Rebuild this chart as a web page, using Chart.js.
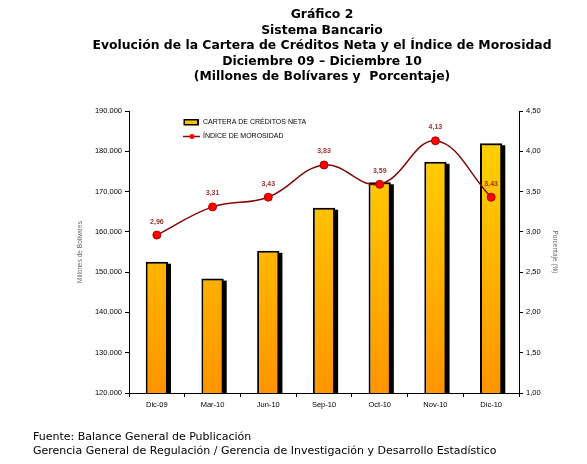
<!DOCTYPE html>
<html><head><meta charset="utf-8">
<script src="https://cdn.jsdelivr.net/npm/chart.js@4"></script>
<style>
html,body{margin:0;padding:0;background:#fff;}
#wrap{position:relative;width:587px;height:464px;overflow:hidden;}
#c{position:absolute;left:0;top:0;}
#title{position:absolute;left:72px;width:500px;top:6px;text-align:center;font:bold 12.4px "DejaVu Sans",Verdana,sans-serif;line-height:15.5px;color:#000;}
#foot{position:absolute;left:33px;top:430px;font:11px "DejaVu Sans",Verdana,sans-serif;line-height:14px;color:#000;white-space:nowrap;}
</style></head>
<body>
<div id="wrap">
<canvas id="c" width="587" height="464"></canvas>
<div id="title">Gráfico 2<br>Sistema Bancario<br>Evolución de la Cartera de Créditos Neta y el Índice de Morosidad<br>Diciembre 09 – Diciembre 10<br>(Millones de Bolívares y&nbsp; Porcentaje)</div>
<div id="foot">Fuente: Balance General de Publicación<br>Gerencia General de Regulación / Gerencia de Investigación y Desarrollo Estadístico</div>
</div>
<script>
const categories = ['Dic-09','Mar-10','Jun-10','Sep-10','Oct-10','Nov-10','Dic-10'];
const carteraNeta = [152600,148400,155300,166000,172300,177400,182000];
const indiceMorosidad = [2.96,3.31,3.43,3.83,3.59,4.13,3.43];
const leftTicks = [120000,130000,140000,150000,160000,170000,180000,190000];
const rightTicks = [1.0,1.5,2.0,2.5,3.0,3.5,4.0,4.5];
const seriesNames = ['CARTERA DE CRÉDITOS NETA','ÍNDICE DE MOROSIDAD'];

const fmtThousands = v => Math.round(v).toString().replace(/\B(?=(\d{3})+(?!\d))/g,'.');
const fmtComma = v => Number(v).toFixed(2).replace('.',',');

const LINE_COLOR = '#800A0A';
const LABEL_COLOR = '#993333';

const barStyle = {
  id:'barStyle',
  beforeDatasetDraw(chart, args){
    const meta = args.meta;
    if (meta.type !== 'bar') return;
    const ctx = chart.ctx;
    const bottom = chart.chartArea.bottom;
    meta.data.forEach(el => {
      const w = el.width, top = el.y, base = Math.min(el.base, bottom);
      const g = ctx.createLinearGradient(0, top, 0, base);
      g.addColorStop(0, '#FFD000');
      g.addColorStop(1, '#FF9500');
      el.options.backgroundColor = g;
      ctx.save();
      ctx.fillStyle = '#000';
      ctx.fillRect(el.x - w/2 + 3, top + 2, w, base - top - 2);
      ctx.restore();
    });
  }
};

const labelsAndLegend = {
  id:'labelsAndLegend',
  afterDatasetsDraw(chart){
    const ctx = chart.ctx;
    const area = chart.chartArea;
    chart.data.datasets.forEach((ds, i) => {
      const meta = chart.getDatasetMeta(i);
      if (meta.type !== 'line') return;
      ctx.save();
      ctx.font = 'bold 7px "Liberation Sans", Arial, sans-serif';
      ctx.fillStyle = LABEL_COLOR;
      ctx.textAlign = 'center';
      ctx.textBaseline = 'middle';
      meta.data.forEach((pt, j) => {
        ctx.fillText(fmtComma(ds.data[j]), pt.x, pt.y - 13.5);
      });
      ctx.restore();
    });
    // legend
    const lx = area.left + 54, ly1 = area.top + 10.5, ly2 = area.top + 25.5;
    ctx.save();
    ctx.fillStyle = '#000';
    ctx.fillRect(lx + 0.5, ly1 - 2.5, 15.5, 6.5);
    ctx.fillStyle = '#FFC400';
    ctx.fillRect(lx + 2, ly1 - 1, 12, 3.5);
    ctx.strokeStyle = LINE_COLOR;
    ctx.lineWidth = 1.5;
    ctx.beginPath(); ctx.moveTo(lx, ly2); ctx.lineTo(lx + 17, ly2); ctx.stroke();
    ctx.fillStyle = '#FF0000';
    ctx.beginPath(); ctx.arc(lx + 9, ly2, 2.5, 0, Math.PI*2); ctx.fill();
    ctx.fillStyle = '#000';
    ctx.font = '7px "Liberation Sans", Arial, sans-serif';
    ctx.textBaseline = 'middle';
    ctx.textAlign = 'left';
    ctx.fillText(chart.data.datasets[1].label, lx + 20, ly1 + 0.5);
    ctx.fillText(chart.data.datasets[0].label, lx + 20, ly2);
    ctx.restore();
  }
};

const tickFont = {family:'"Liberation Sans", Arial, sans-serif', size:7.5};

new Chart(document.getElementById('c'), {
  data:{
    labels: categories,
    datasets:[
      {type:'line', label:seriesNames[1], data:indiceMorosidad, yAxisID:'y1', order:0,
       borderColor:LINE_COLOR, borderWidth:1.5, tension:0.4,
       pointRadius:4, pointBackgroundColor:'#FF0000', pointBorderColor:'#B00000', pointBorderWidth:1},
      {type:'bar', label:seriesNames[0], data:carteraNeta, yAxisID:'y', order:1,
       backgroundColor:'#FFC000', borderColor:'#000', borderWidth:2, borderSkipped:false,
       categoryPercentage:1.0, barPercentage:0.4}
    ]
  },
  options:{
    responsive:false, animation:false,
    layout:{padding:{left:72, right:24, top:111, bottom:30}},
    plugins:{legend:{display:false}, title:{display:false}, tooltip:{enabled:false}},
    scales:{
      x:{type:'category', offset:true,
         grid:{display:true, drawOnChartArea:false, drawTicks:true, tickLength:4, color:'#000', offset:true},
         border:{color:'#000', width:1},
         ticks:{font:tickFont, color:'#000', padding:3, maxRotation:0},
         afterFit(s){ s.height = 464 - 30 - 393; }},
      y:{position:'left', min:120000, max:190000,
         afterBuildTicks(s){ s.ticks = leftTicks.map(v=>({value:v})); },
         grid:{display:true, drawOnChartArea:false, tickLength:4, color:'#000'},
         border:{color:'#000', width:1},
         ticks:{font:tickFont, color:'#000', padding:3, callback:v=>fmtThousands(v)},
         title:{display:true, text:'Millones de Bolívares', color:'#666', font:{family:'"Liberation Sans", Arial, sans-serif', size:6.5}, padding:{top:4,bottom:4}},
         afterFit(s){ s.width = 129 - 72; }},
      y1:{position:'right', min:1, max:4.5,
         afterBuildTicks(s){ s.ticks = rightTicks.map(v=>({value:v})); },
         grid:{display:true, drawOnChartArea:false, tickLength:4, color:'#000'},
         border:{color:'#000', width:1},
         ticks:{font:tickFont, color:'#000', padding:3, callback:v=>fmtComma(v)},
         title:{display:true, text:'Porcentaje (%)', color:'#666', font:{family:'"Liberation Sans", Arial, sans-serif', size:6.5}, padding:{top:4,bottom:4}},
         afterFit(s){ s.width = 587 - 24 - 519; }}
    }
  },
  plugins:[barStyle, labelsAndLegend]
});
</script>
</body></html>
